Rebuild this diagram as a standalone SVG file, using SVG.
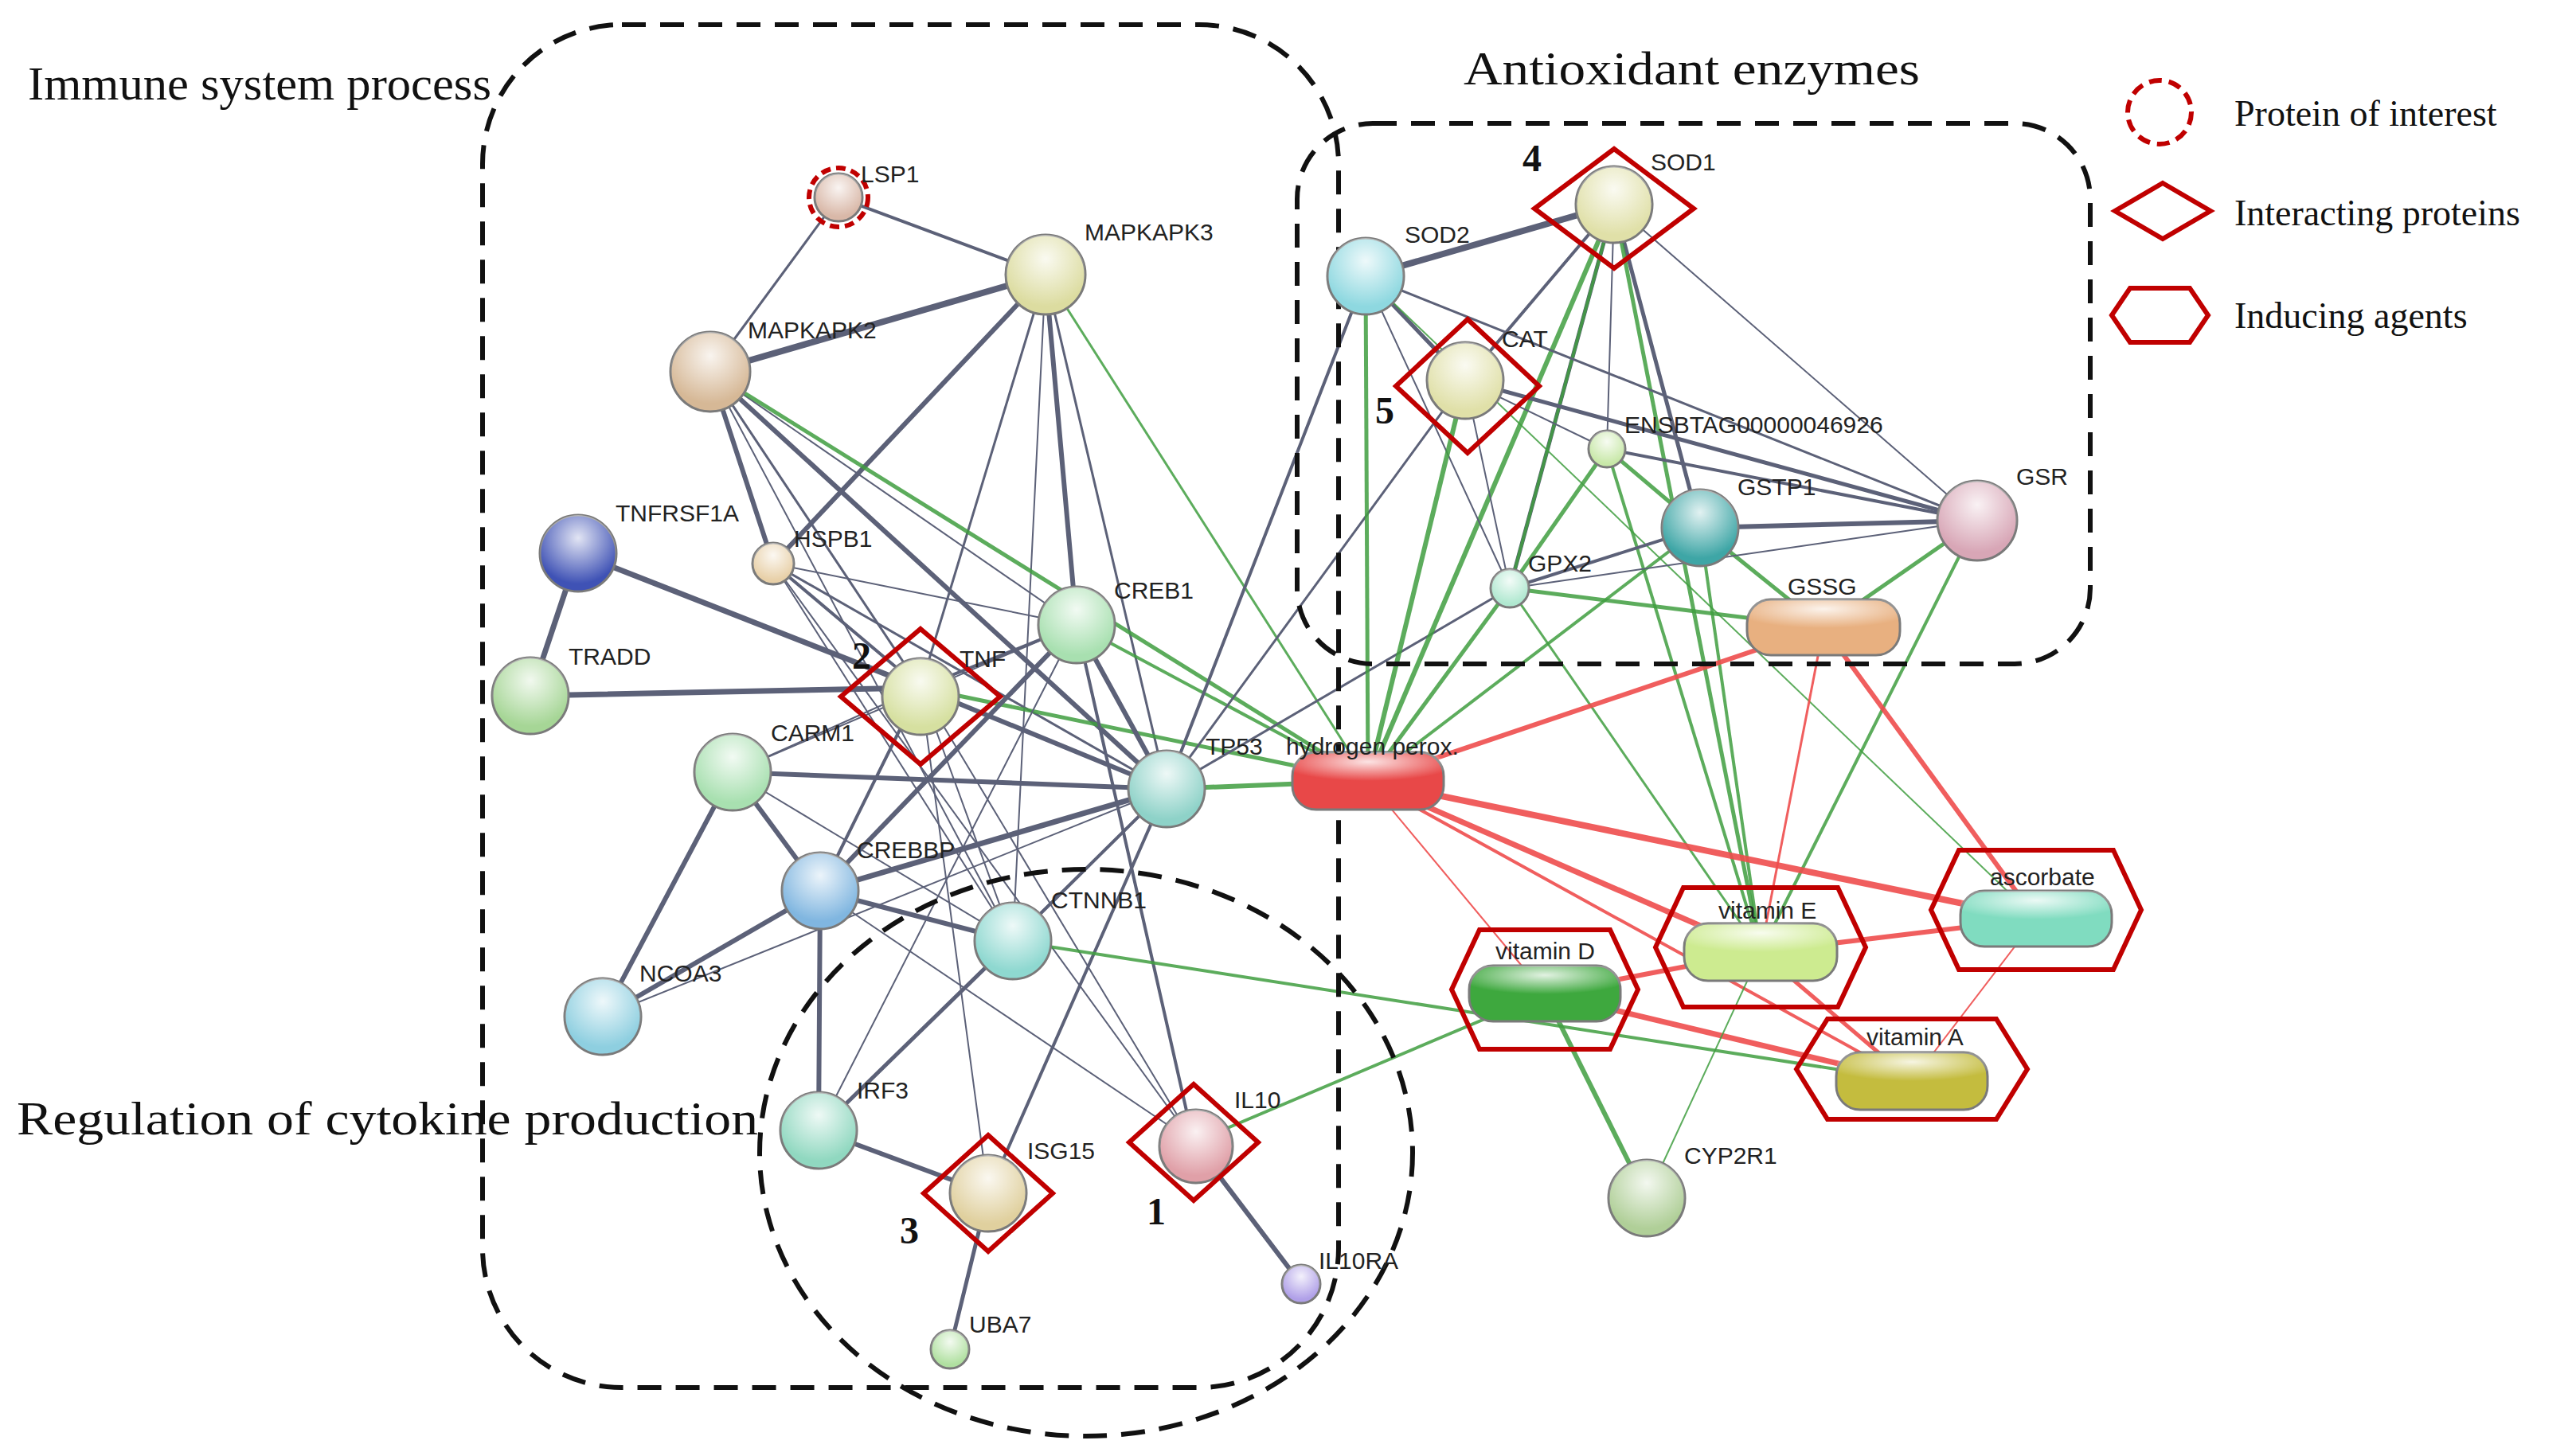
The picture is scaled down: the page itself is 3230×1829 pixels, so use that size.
<svg xmlns="http://www.w3.org/2000/svg" width="3230" height="1829" viewBox="0 0 3230 1829">
<defs>
<radialGradient id="hl" cx="0.5" cy="0.3" r="0.6"><stop offset="0" stop-color="#fff" stop-opacity="0.85"/><stop offset="1" stop-color="#fff" stop-opacity="0"/></radialGradient>
</defs>
<style>
.g{stroke:#5c6178;fill:none;stroke-linecap:round}
.gr{stroke:#3f9e3f;fill:none;stroke-opacity:0.85}
.r{stroke:#ee4c4c;fill:none;stroke-opacity:0.9}
.n{stroke:#7a7a7a;stroke-width:3}
.lab{font-family:"Liberation Sans",Arial,sans-serif;font-size:30px;fill:#222}
.ttl{font-family:"Liberation Serif","Times New Roman",serif;font-size:60px;fill:#111}
.leg{font-family:"Liberation Serif","Times New Roman",serif;font-size:46px;fill:#111}
.num{font-family:"Liberation Serif","Times New Roman",serif;font-size:48px;font-weight:bold;fill:#111}
.dia{fill:none;stroke:#c00000;stroke-width:6}
.box{fill:none;stroke:#111;stroke-width:6;stroke-dasharray:30 18}
</style>
<rect width="3230" height="1829" fill="#fff"/>
<g id="connectors">
<path class="g" stroke-width="4" d="M1053 248L1313 345"/>
<path class="g" stroke-width="3" d="M1053 248L892 467"/>
<path class="g" stroke-width="8" d="M892 467L1313 345"/>
<path class="g" stroke-width="6" d="M1313 345L971 708"/>
<path class="g" stroke-width="3" d="M1313 345L1156 864"/>
<path class="g" stroke-width="6" d="M1313 345L1352 785"/>
<path class="g" stroke-width="3" d="M1313 345L1465 991"/>
<path class="g" stroke-width="2" d="M1313 345L1272 1182"/>
<path class="gr" stroke-width="3" d="M1313 345L1718 981"/>
<path class="g" stroke-width="6" d="M892 467L971 708"/>
<path class="g" stroke-width="3" d="M892 467L1156 864"/>
<path class="g" stroke-width="6" d="M892 467L1465 991"/>
<path class="g" stroke-width="2" d="M892 467L1352 785"/>
<path class="g" stroke-width="2" d="M892 467L1272 1182"/>
<path class="gr" stroke-width="5" d="M892 467L1718 981"/>
<path class="g" stroke-width="7" d="M726 695L666 874"/>
<path class="g" stroke-width="7" d="M726 695L1156 864"/>
<path class="g" stroke-width="7" d="M666 874L1156 864"/>
<path class="g" stroke-width="4" d="M971 708L1156 864"/>
<path class="g" stroke-width="3" d="M971 708L1465 991"/>
<path class="g" stroke-width="2" d="M971 708L1352 785"/>
<path class="g" stroke-width="2" d="M971 708L1499 1435"/>
<path class="g" stroke-width="2" d="M971 708L1272 1182"/>
<path class="g" stroke-width="4" d="M1156 864L1352 785"/>
<path class="g" stroke-width="6" d="M1156 864L1465 991"/>
<path class="g" stroke-width="4" d="M1156 864L1030 1119"/>
<path class="g" stroke-width="2" d="M1156 864L920 970"/>
<path class="g" stroke-width="2" d="M1156 864L1499 1435"/>
<path class="g" stroke-width="2" d="M1156 864L1272 1182"/>
<path class="g" stroke-width="2" d="M1156 864L1241 1499"/>
<path class="gr" stroke-width="5" d="M1156 864L1718 981"/>
<path class="g" stroke-width="6" d="M1352 785L1465 991"/>
<path class="g" stroke-width="6" d="M1352 785L1030 1119"/>
<path class="g" stroke-width="2" d="M1352 785L920 970"/>
<path class="g" stroke-width="2" d="M1352 785L1028 1420"/>
<path class="g" stroke-width="4" d="M1352 785L1499 1435"/>
<path class="gr" stroke-width="4" d="M1352 785L1718 981"/>
<path class="g" stroke-width="6" d="M920 970L1465 991"/>
<path class="g" stroke-width="6" d="M920 970L1030 1119"/>
<path class="g" stroke-width="6" d="M920 970L757 1277"/>
<path class="g" stroke-width="2" d="M920 970L1272 1182"/>
<path class="g" stroke-width="7" d="M1465 991L1030 1119"/>
<path class="g" stroke-width="4" d="M1465 991L1272 1182"/>
<path class="g" stroke-width="4" d="M1465 991L1715 347"/>
<path class="gr" stroke-width="6" d="M1465 991L1718 981"/>
<path class="g" stroke-width="2" d="M1465 991L757 1277"/>
<path class="g" stroke-width="4" d="M1465 991L1241 1499"/>
<path class="g" stroke-width="2" d="M1465 991L1028 1420"/>
<path class="g" stroke-width="3" d="M1465 991L1840 478"/>
<path class="g" stroke-width="3" d="M1465 991L1896 739"/>
<path class="g" stroke-width="6" d="M1030 1119L757 1277"/>
<path class="g" stroke-width="6" d="M1030 1119L1272 1182"/>
<path class="g" stroke-width="6" d="M1030 1119L1028 1420"/>
<path class="g" stroke-width="2" d="M1030 1119L1499 1435"/>
<path class="g" stroke-width="5" d="M1272 1182L1028 1420"/>
<path class="gr" stroke-width="4" d="M1272 1182L2401 1358"/>
<path class="g" stroke-width="6" d="M1028 1420L1241 1499"/>
<path class="g" stroke-width="5" d="M1241 1499L1193 1695"/>
<path class="g" stroke-width="6" d="M1499 1435L1634 1613"/>
<path class="gr" stroke-width="4" d="M1499 1435L1940 1248"/>
<path class="g" stroke-width="8" d="M2027 257L1715 347"/>
<path class="g" stroke-width="4" d="M2027 257L1840 478"/>
<path class="g" stroke-width="5" d="M2027 257L1896 739"/>
<path class="g" stroke-width="5" d="M2027 257L2135 663"/>
<path class="g" stroke-width="2" d="M2027 257L2018 564"/>
<path class="g" stroke-width="2" d="M2027 257L2483 654"/>
<path class="gr" stroke-width="6" d="M2027 257L1718 981"/>
<path class="gr" stroke-width="5" d="M2027 257L2211 1196"/>
<path class="gr" stroke-width="4" d="M2027 257L1896 739"/>
<path class="g" stroke-width="5" d="M1715 347L1840 478"/>
<path class="g" stroke-width="3" d="M1715 347L2483 654"/>
<path class="g" stroke-width="2" d="M1715 347L1896 739"/>
<path class="gr" stroke-width="5" d="M1715 347L1718 981"/>
<path class="gr" stroke-width="2" d="M1715 347L2557 1154"/>
<path class="g" stroke-width="5" d="M1840 478L2483 654"/>
<path class="g" stroke-width="2" d="M1840 478L2018 564"/>
<path class="g" stroke-width="2" d="M1840 478L1896 739"/>
<path class="gr" stroke-width="6" d="M1840 478L1718 981"/>
<path class="gr" stroke-width="5" d="M2018 564L2135 663"/>
<path class="g" stroke-width="4" d="M2018 564L2483 654"/>
<path class="gr" stroke-width="5" d="M2018 564L1896 739"/>
<path class="gr" stroke-width="4" d="M2018 564L2211 1196"/>
<path class="g" stroke-width="6" d="M2135 663L2483 654"/>
<path class="g" stroke-width="4" d="M2135 663L1896 739"/>
<path class="gr" stroke-width="5" d="M2135 663L2290 788"/>
<path class="gr" stroke-width="4" d="M2135 663L1718 981"/>
<path class="gr" stroke-width="4" d="M2135 663L2211 1196"/>
<path class="g" stroke-width="2" d="M1896 739L2483 654"/>
<path class="gr" stroke-width="5" d="M1896 739L2290 788"/>
<path class="gr" stroke-width="5" d="M1896 739L1718 981"/>
<path class="gr" stroke-width="3" d="M1896 739L2211 1196"/>
<path class="gr" stroke-width="5" d="M2483 654L2290 788"/>
<path class="gr" stroke-width="4" d="M2483 654L2211 1196"/>
<path class="r" stroke-width="6" d="M2290 788L1718 981"/>
<path class="r" stroke-width="6" d="M2290 788L2557 1154"/>
<path class="r" stroke-width="3" d="M2290 788L2211 1196"/>
<path class="r" stroke-width="7" d="M1718 981L2211 1196"/>
<path class="r" stroke-width="8" d="M1718 981L2557 1154"/>
<path class="r" stroke-width="4" d="M1718 981L2401 1358"/>
<path class="r" stroke-width="2" d="M1718 981L1940 1248"/>
<path class="r" stroke-width="6" d="M1940 1248L2211 1196"/>
<path class="r" stroke-width="7" d="M1940 1248L2401 1358"/>
<path class="gr" stroke-width="6" d="M1940 1248L2068 1505"/>
<path class="r" stroke-width="6" d="M2211 1196L2557 1154"/>
<path class="r" stroke-width="5" d="M2211 1196L2401 1358"/>
<path class="gr" stroke-width="2" d="M2211 1196L2068 1505"/>
<path class="r" stroke-width="2" d="M2557 1154L2401 1358"/>
</g>
<g id="groups">
<rect class="box" x="606" y="31" width="1075" height="1712" rx="175"/>
<rect class="box" x="1629" y="155" width="996" height="679" rx="95"/>
<ellipse class="box" cx="1364" cy="1448" rx="410" ry="356"/>
<text class="ttl" x="35" y="125" textLength="582" lengthAdjust="spacingAndGlyphs">Immune system process</text>
<text class="ttl" x="1838" y="106" textLength="573" lengthAdjust="spacingAndGlyphs">Antioxidant enzymes</text>
<text class="ttl" x="21" y="1425" textLength="931" lengthAdjust="spacingAndGlyphs">Regulation of cytokine production</text>
</g>
<g id="legend">
<circle cx="2712" cy="141" r="40" fill="none" stroke="#c00000" stroke-width="6" stroke-dasharray="16 9"/>
<text class="leg" x="2806" y="158">Protein of interest</text>
<path class="dia" d="M2716 230L2776 265L2716 300L2656 265Z"/>
<text class="leg" x="2806" y="283">Interacting proteins</text>
<path class="dia" d="M2652 396L2675 362L2750 362L2773 396L2750 430L2675 430Z"/>
<text class="leg" x="2806" y="412">Inducing  agents</text>
</g>
<g id="LSP1"><circle class="n" cx="1053" cy="248" r="30" fill="#d9b8a8"/><circle cx="1053" cy="248" r="30" fill="url(#hl)"/><circle cx="1053" cy="248" r="37" fill="none" stroke="#c00000" stroke-width="6" stroke-dasharray="12 7"/><text class="lab" x="1081" y="229">LSP1</text></g>
<g id="MAPKAPK3"><circle class="n" cx="1313" cy="345" r="50" fill="#dcdca0"/><circle cx="1313" cy="345" r="50" fill="url(#hl)"/><text class="lab" x="1362" y="302">MAPKAPK3</text></g>
<g id="MAPKAPK2"><circle class="n" cx="892" cy="467" r="50" fill="#d6b896"/><circle cx="892" cy="467" r="50" fill="url(#hl)"/><text class="lab" x="939" y="425">MAPKAPK2</text></g>
<g id="TNFRSF1A"><circle class="n" cx="726" cy="695" r="48" fill="#3f52b5"/><circle cx="726" cy="695" r="48" fill="url(#hl)"/><text class="lab" x="773" y="655">TNFRSF1A</text></g>
<g id="HSPB1"><circle class="n" cx="971" cy="708" r="26" fill="#e8d0a8"/><circle cx="971" cy="708" r="26" fill="url(#hl)"/><text class="lab" x="997" y="687">HSPB1</text></g>
<g id="TRADD"><circle class="n" cx="666" cy="874" r="48" fill="#a6d696"/><circle cx="666" cy="874" r="48" fill="url(#hl)"/><text class="lab" x="714" y="835">TRADD</text></g>
<g id="TNF"><circle class="n" cx="1156" cy="875" r="48" fill="#d6e0a0"/><circle cx="1156" cy="875" r="48" fill="url(#hl)"/><path class="dia" d="M1156 790L1256 875L1156 960L1056 875Z"/><text class="lab" x="1205" y="838">TNF</text><text class="num" x="1070" y="840">2</text></g>
<g id="CREB1"><circle class="n" cx="1352" cy="785" r="48" fill="#a8e0b0"/><circle cx="1352" cy="785" r="48" fill="url(#hl)"/><text class="lab" x="1399" y="752">CREB1</text></g>
<g id="CARM1"><circle class="n" cx="920" cy="970" r="48" fill="#a8e0b0"/><circle cx="920" cy="970" r="48" fill="url(#hl)"/><text class="lab" x="968" y="931">CARM1</text></g>
<g id="TP53"><circle class="n" cx="1465" cy="991" r="48" fill="#8ed2c8"/><circle cx="1465" cy="991" r="48" fill="url(#hl)"/><text class="lab" x="1514" y="948">TP53</text></g>
<g id="CREBBP"><circle class="n" cx="1030" cy="1119" r="48" fill="#80b6e0"/><circle cx="1030" cy="1119" r="48" fill="url(#hl)"/><text class="lab" x="1076" y="1078">CREBBP</text></g>
<g id="CTNNB1"><circle class="n" cx="1272" cy="1182" r="48" fill="#8ed8d0"/><circle cx="1272" cy="1182" r="48" fill="url(#hl)"/><text class="lab" x="1320" y="1141">CTNNB1</text></g>
<g id="NCOA3"><circle class="n" cx="757" cy="1277" r="48" fill="#8ecfe0"/><circle cx="757" cy="1277" r="48" fill="url(#hl)"/><text class="lab" x="803" y="1233">NCOA3</text></g>
<g id="IRF3"><circle class="n" cx="1028" cy="1420" r="48" fill="#90d8c0"/><circle cx="1028" cy="1420" r="48" fill="url(#hl)"/><text class="lab" x="1076" y="1380">IRF3</text></g>
<g id="ISG15"><circle class="n" cx="1241" cy="1499" r="48" fill="#e0d09e"/><circle cx="1241" cy="1499" r="48" fill="url(#hl)"/><path class="dia" d="M1241 1426L1322 1499L1241 1572L1160 1499Z"/><text class="lab" x="1290" y="1456">ISG15</text><text class="num" x="1130" y="1562">3</text></g>
<g id="IL10"><circle class="n" cx="1502" cy="1440" r="46" fill="#e0a0a8"/><circle cx="1502" cy="1440" r="46" fill="url(#hl)"/><path class="dia" d="M1499 1362L1580 1435L1499 1508L1418 1435Z"/><text class="lab" x="1550" y="1392">IL10</text><text class="num" x="1440" y="1538">1</text></g>
<g id="IL10RA"><circle class="n" cx="1634" cy="1613" r="24" fill="#b0a0e8"/><circle cx="1634" cy="1613" r="24" fill="url(#hl)"/><text class="lab" x="1656" y="1594">IL10RA</text></g>
<g id="UBA7"><circle class="n" cx="1193" cy="1695" r="24" fill="#b0e0a0"/><circle cx="1193" cy="1695" r="24" fill="url(#hl)"/><text class="lab" x="1217" y="1674">UBA7</text></g>
<g id="SOD1"><circle class="n" cx="2027" cy="257" r="48" fill="#e0e0a8"/><circle cx="2027" cy="257" r="48" fill="url(#hl)"/><path class="dia" d="M2027 187L2127 262L2027 337L1927 262Z"/><text class="lab" x="2073" y="214">SOD1</text><text class="num" x="1912" y="215">4</text></g>
<g id="SOD2"><circle class="n" cx="1715" cy="347" r="48" fill="#8ed8e0"/><circle cx="1715" cy="347" r="48" fill="url(#hl)"/><text class="lab" x="1764" y="305">SOD2</text></g>
<g id="CAT"><circle class="n" cx="1840" cy="478" r="48" fill="#e0e0a8"/><circle cx="1840" cy="478" r="48" fill="url(#hl)"/><path class="dia" d="M1843 401L1933 485L1843 569L1753 485Z"/><text class="lab" x="1886" y="436">CAT</text><text class="num" x="1727" y="532">5</text></g>
<g id="ENSBTAG00000046926"><circle class="n" cx="2018" cy="564" r="23" fill="#c8e8a8"/><circle cx="2018" cy="564" r="23" fill="url(#hl)"/><text class="lab" x="2040" y="544">ENSBTAG00000046926</text></g>
<g id="GSTP1"><circle class="n" cx="2135" cy="663" r="48" fill="#3ea6a6"/><circle cx="2135" cy="663" r="48" fill="url(#hl)"/><text class="lab" x="2182" y="622">GSTP1</text></g>
<g id="GSR"><circle class="n" cx="2483" cy="654" r="50" fill="#d8a6b6"/><circle cx="2483" cy="654" r="50" fill="url(#hl)"/><text class="lab" x="2532" y="609">GSR</text></g>
<g id="GPX2"><circle class="n" cx="1896" cy="739" r="24" fill="#b0e8d0"/><circle cx="1896" cy="739" r="24" fill="url(#hl)"/><text class="lab" x="1919" y="718">GPX2</text></g>
<g id="CYP2R1"><circle class="n" cx="2068" cy="1505" r="48" fill="#b0cf98"/><circle cx="2068" cy="1505" r="48" fill="url(#hl)"/><text class="lab" x="2115" y="1462">CYP2R1</text></g>
<g id="GSSG"><rect class="n" x="2194" y="753" width="192" height="70" rx="30" fill="#e8b080"/><rect x="2194" y="753" width="192" height="40" rx="20" fill="url(#hl)"/><text class="lab" x="2245" y="747">GSSG</text></g>
<g id="hydrogen_perox"><rect class="n" x="1623" y="945" width="190" height="72" rx="30" fill="#e84848"/><rect x="1623" y="945" width="190" height="40" rx="20" fill="url(#hl)"/><text class="lab" x="1615" y="948">hydrogen perox.</text></g>
<g id="vitamin_D"><path class="dia" d="M1823 1243L1858 1168L2022 1168L2057 1243L2022 1318L1858 1318Z"/><rect class="n" x="1845" y="1213" width="190" height="70" rx="30" fill="#3ea83e"/><rect x="1845" y="1213" width="190" height="40" rx="20" fill="url(#hl)"/><text class="lab" x="1878" y="1205">vitamin D</text></g>
<g id="vitamin_E"><path class="dia" d="M2079 1190L2114 1115L2308 1115L2343 1190L2308 1265L2114 1265Z"/><rect class="n" x="2115" y="1160" width="192" height="72" rx="30" fill="#cdeb90"/><rect x="2115" y="1160" width="192" height="40" rx="20" fill="url(#hl)"/><text class="lab" x="2158" y="1154">vitamin E</text></g>
<g id="ascorbate"><path class="dia" d="M2425 1143L2460 1068L2654 1068L2689 1143L2654 1218L2460 1218Z"/><rect class="n" x="2462" y="1119" width="190" height="70" rx="30" fill="#80dcc0"/><rect x="2462" y="1119" width="190" height="40" rx="20" fill="url(#hl)"/><text class="lab" x="2499" y="1112">ascorbate</text></g>
<g id="vitamin_A"><path class="dia" d="M2256 1343L2295 1280L2507 1280L2546 1343L2507 1406L2295 1406Z"/><rect class="n" x="2306" y="1322" width="190" height="72" rx="30" fill="#c4bc3e"/><rect x="2306" y="1322" width="190" height="40" rx="20" fill="url(#hl)"/><text class="lab" x="2344" y="1313">vitamin A</text></g>
</svg>
